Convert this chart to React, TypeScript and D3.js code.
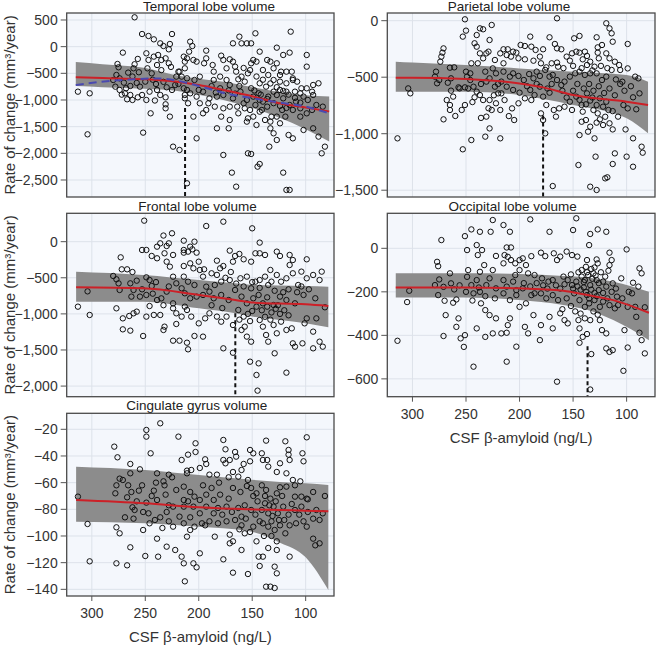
import React from 'react';
import * as d3 from 'd3';

type P = [number, number];

const xTicks = [300, 250, 200, 150, 100];
const xDomain: [number, number] = [323.5, 73.5];

const temporalYTicks = [500, 0, -500, -1000, -1500, -2000, -2500];
const parietalYTicks = [0, -500, -1000, -1500];
const frontalYTicks = [0, -500, -1000, -1500, -2000];
const occipitalYTicks = [0, -200, -400, -600];
const cingulateYTicks = [-20, -40, -60, -80, -100, -120, -140];

const temporalPoints: P[] = [
  [313,-844],[302,-875],[304,-1644],[260,550],[271,-112],[253,237],[247,200],[242,137],[236,62],[233,12],[227,50],[225,237],[228,-50],[276,-325],[275,-387],[277,-531],[274,-594],[278,-750],[274,-812],[269,-875],[267,-987],[264,-906],[262,-1000],[257,-950],[253,-906],[266,-487],[261,-406],[248,-406],[244,-500],[249,-125],[247,-250],[242,-187],[238,-156],[235,-250],[231,-219],[228,-312],[239,-344],[250,-656],[255,-750],[246,-844],[249,-1000],[239,-812],[236,-906],[231,-950],[230,-762],[225,-812],[222,-719],[221,-562],[219,-469],[216,-562],[213,-281],[209,-94],[245,-1250],[231,-1156],[227,-1312],[231,-1081],[252,-1612],[224,-1875],[218,-1937],[211,-812],[213,-969],[280,-625],[270,-675],[264,-737],
  [147,250],[114,281],[162,187],[168,62],[160,62],[155,62],[151,62],[143,-94],[127,-19],[121,-156],[115,-112],[99,-156],[99,-375],[208,94],[206,12],[193,-75],[193,-219],[214,-187],[211,-219],[205,-250],[202,-281],[195,-312],[187,-344],[186,-469],[179,-169],[177,-250],[171,-237],[168,-281],[166,-375],[174,-406],[165,-469],[151,-312],[149,-250],[146,-281],[136,-250],[133,-281],[127,-312],[130,-406],[123,-469],[113,-469],[112,-594],[104,-781],[93,-719],[88,-687],[218,-469],[213,-406],
  [211,-594],[204,-625],[199,-562],[186,-625],[180,-562],[174,-625],[171,-719],[163,-612],[157,-656],[151,-781],[143,-687],[137,-750],[130,-625],[124,-656],[118,-687],[112,-625],[214,-781],[208,-875],[200,-812],[196,-844],[190,-969],[183,-937],[177,-906],[168,-969],[161,-844],[155,-1000],[149,-937],[144,-875],[140,-1031],[135,-937],[127,-906],[121,-969],[115,-1094],[109,-1031],[102,-937],[98,-1000],[93,-906],[90,-1094],[84,-1125],[210,-1062],[205,-1312],[196,-1250],[193,-1187],[183,-1531],[179,-1312],[171,-1375],[172,-1531],[163,-1250],[157,-1156],[154,-1344],[155,-1406],[149,-1312],[146,-1469],[141,-1187],[138,-1375],[133,-1531],[130,-1625],[127,-1750],[134,-1875],[124,-1437],[119,-1312],[116,-1656],[112,-1719],[102,-1562],[93,-1531],[88,-1687],[82,-1875],[85,-2000],[202,-1719],[177,-2031],[154,-2000],[151,-2012],[143,-2200],[145,-2250],[169,-2362],[165,-2625],[121,-2362],[118,-2687],[115,-2687],[211,-2562],
  [160,-562],[154,-500],[140,-437],[135,-531],[124,-531],[118,-469],[108,-656],[105,-875],[99,-781],[94,-844],[110,-844],[118,-844],[124,-812],[130,-844],[143,-1000],[147,-1094],[152,-1187],[158,-1062],[164,-1125],[171,-1125],[177,-1156],[185,-1125],[191,-1062],[199,-1062],[202,-937],[213,-906],[143,-1219],[136,-1125],[122,-1187],[112,-1187],[105,-1156],[99,-1250],[94,-1187],[105,-1312],[127,-1312],[133,-1406],[132,-1312],
  [158,-400],[152,-440],[146,-560],[140,-620],[133,-690],[127,-760],[121,-830],[116,-900],[110,-960],[105,-1050],[148,-820],[142,-900],[136,-980],[130,-1060],[124,-1110],[118,-1150],[162,-740],[166,-880],[172,-820],[180,-780],[184,-860],[188,-740],[240,-700],[243,-620],[258,-680],[262,-560],[256,-480],[268,-780],[272,-900],[235,-440],[226,-380],[219,-700],[233,-660],[241,-1010],[260,-330],[257,-230],
];

const parietalPoints: P[] = [
  [314,-1041],[304,-599],[302,-643],[271,-873],[274,-363],[273,-318],[272,-283],[271,-245],[275,-525],[277,-554],[278,-451],[279,-495],[265,-416],[261,-413],[264,-510],[267,-549],[264,-619],[262,-672],[268,-702],[265,-746],[265,-790],[260,-843],[254,-790],[251,-746],[256,-599],[251,-590],[257,-590],[250,-451],[249,-495],[246,-466],[246,-525],[253,-141],[250,-88],[251,12],[240,-127],[237,-68],[234,-76],[242,-200],[240,-230],[231,-289],[237,-289],[234,-333],[239,-377],[245,-377],[243,-584],[240,-628],[242,-678],[237,-658],[234,-702],[229,-775],[231,-849],[228,-953],[232,-1026],[245,-1056],[253,-1138],[228,-171],[226,-38],[229,-274],[223,-348],[225,-422],[222,-466],[228,-510],[232,-451],[231,-539],[223,-584],[220,-643],[228,-702],[222,-731],[226,-790],[218,-790],[218,-289],[215,-377],
  [165,21],[119,-23],[116,-68],[114,-112],[113,-186],[99,-206],[128,-147],[144,-135],[149,-156],[172,-147],[190,-141],[199,-215],[195,-224],[189,-230],[185,-259],[178,-253],[167,-206],[165,-245],[161,-253],[215,-253],[211,-253],[206,-274],[212,-304],[208,-318],[203,-283],[201,-333],[195,-342],[187,-354],[181,-318],[180,-377],[175,-413],[170,-377],[165,-371],[164,-407],[156,-318],[153,-354],[151,-289],[147,-274],[144,-283],[139,-274],[137,-312],[141,-342],[137,-392],[134,-363],[130,-407],[127,-283],[127,-236],[123,-215],[126,-333],[119,-289],[116,-333],[111,-363],[107,-392],[114,-436],[119,-495],[123,-525],[128,-466],[134,-466],[139,-480],[144,-451],[148,-466],[153,-495],[158,-539],[161,-569],[165,-525],[169,-480],[172,-495],[176,-436],[181,-489],[184,-451],[187,-510],[191,-472],[196,-525],[201,-489],[206,-466],[209,-495],[215,-451],[217,-539],[212,-584],[206,-613],[200,-637],[195,-687],[201,-731],[207,-776],[210,-844],[205,-879],[214,-702],[217,-643],[189,-702],[186,-658],[190,-613],[181,-584],[178,-672],[172,-637],[175,-746],[168,-790],[163,-776],[166,-849],[158,-761],[153,-717],[151,-790],[147,-672],[142,-746],[141,-805],[137,-643],[134,-707],[131,-790],[128,-746],[125,-687],[122,-761],[119,-717],[117,-790],[142,-894],[138,-879],[134,-938],[136,-982],[144,-1012],[130,-1041],[128,-902],[125,-873],[122,-923],[116,-908],[113,-962],[108,-849],[103,-746],[99,-776],[94,-678],[91,-784],[88,-643],[89,-510],[92,-495],[99,-422],[106,-436],[101,-962],[94,-1041],[86,-1115],[85,-1168],[100,-1203],[94,-1292],[111,-1174],[113,-1268],[129,-1203],[145,-1277],[120,-1395],[118,-1386],[134,-1469],[128,-1498],[169,-1463],[178,-879],[180,-820],[176,-997],[218,-1041],
  [146,-560],[140,-600],[135,-560],[131,-620],[126,-580],[121,-640],[116,-600],[111,-660],[106,-560],[102,-620],[144,-700],[138,-740],[132,-680],[127,-820],[120,-850],[113,-800],[150,-620],[156,-680],[160,-620],[170,-560],[174,-600],[184,-560],[193,-580],[159,-420],[150,-400],[142,-420],[132,-440],[124,-400],[118,-420],[110,-520],[104,-540],[96,-580],[236,-560],[244,-720],[236,-860],[248,-600],[220,-560],[224,-660],
];

const frontalPoints: P[] = [
  [313,-900],[304,-688],[302,-1015],[273,-217],[272,-383],[280,-475],[277,-521],[275,-577],[274,-669],[277,-923],[271,-1062],[271,-1214],[264,-1232],[267,-383],[264,-577],[261,-669],[263,-761],[261,-992],[265,-1029],[258,-969],[252,-1306],[251,291],[253,-115],[249,-115],[244,-198],[239,-230],[249,-494],[246,-531],[244,-614],[253,-660],[249,-738],[255,-761],[239,-808],[246,-891],[242,-1015],[236,-1015],[249,-1038],[233,-1223],[232,-1177],[225,116],[228,-23],[233,85],[236,-23],[239,-69],[230,-60],[232,-161],[224,-184],[214,-115],[224,-485],[227,-346],[230,-277],[221,-577],[216,-646],[230,-692],[235,-785],[224,-854],[224,-923],[221,-992],[213,-900],[221,-1140],[224,-1371],[218,-1371],[204,-1306],
  [193,217],[177,277],[150,185],[143,-13],[214,14],[208,-69],[204,0],[214,-152],[210,-138],[206,-106],[202,-152],[214,-337],[208,-300],[205,-369],[200,-277],[199,-392],[195,-383],[188,-438],[183,-263],[180,-369],[177,-337],[171,-124],[168,-277],[166,-198],[162,-170],[158,-244],[151,-277],[147,-161],[143,-161],[138,-184],[133,-392],[127,-138],[124,-198],[115,-184],[112,-254],[115,-323],[99,-244],[104,-415],[99,-507],[93,-461],[87,-531],[85,-415],[214,-484],[210,-554],[204,-600],[196,-484],[193,-623],[185,-600],[179,-554],[171,-531],[166,-669],[161,-507],[155,-484],[151,-646],[147,-554],[143,-531],[138,-484],[135,-600],[132,-554],[127,-461],[123,-554],[118,-507],[112,-438],[107,-600],[213,-715],[208,-784],[202,-761],[196,-738],[190,-692],[186,-784],[179,-738],[172,-808],[160,-761],[155,-854],[149,-784],[144,-738],[140,-854],[136,-771],[130,-877],[124,-761],[118,-808],[110,-854],[102,-738],[91,-784],[82,-909],[216,-1038],[211,-946],[207,-1038],[200,-1131],[194,-1062],[190,-992],[183,-1038],[179,-1108],[174,-1038],[168,-1154],[163,-946],[158,-1038],[157,-1177],[155,-1315],[160,-1223],[151,-1385],[143,-1085],[140,-1177],[137,-1292],[135,-1385],[130,-1154],[127,-1269],[123,-1108],[118,-1223],[112,-1408],[110,-1454],[113,-1200],[101,-1131],[99,-1062],[90,-1062],[93,-1246],[87,-1385],[84,-1454],[93,-1477],[103,-1408],[129,-1546],[144,-1685],[152,-1662],[146,-1846],[118,-1814],[145,-2063],[196,-1315],[177,-1477],[168,-1538],[211,-1399],[210,-1491],
  [146,-900],[141,-950],[136,-900],[132,-980],[128,-930],[124,-1000],[120,-950],[116,-1020],[150,-960],[154,-1000],[138,-1040],[133,-1080],[126,-880],[121,-700],[129,-680],[116,-660],[108,-700],[104,-620],[97,-660],[143,-640],[150,-560],[158,-620],[165,-580],[170,-420],[175,-500],[183,-460],[188,-880],[178,-920],[162,-1080],[152,-1100],[258,-540],[262,-420],[240,-560],[243,-720],[228,-620],[233,-880],
];

const occipitalPoints: P[] = [
  [314,-425],[305,-247],[303,-195],[273,38],[277,-62],[276,-82],[279,-169],[275,-143],[271,-177],[276,-215],[270,-241],[269,-307],[271,-403],[265,-115],[264,-161],[261,-189],[259,-235],[257,-322],[259,-361],[255,-414],[252,-453],[251,-399],[251,56],[249,-8],[245,87],[237,76],[248,-100],[245,-169],[243,-207],[249,-131],[243,-544],[240,15],[239,-31],[235,-8],[233,-77],[237,-108],[240,-146],[237,-200],[231,-169],[236,-253],[232,-284],[228,-307],[232,-407],[240,-368],[225,130],[227,76],[228,-138],[225,-100],[222,-184],[223,-230],[222,-322],[225,-391],[222,-35],[215,-69],[215,-207],[209,-238],[204,-123],[203,-215],
  [190,133],[172,76],[150,84],[147,138],[134,66],[127,87],[119,76],[135,15],[100,-5],[215,107],[209,76],[212,4],[208,4],[214,-31],[211,-39],[208,-54],[204,-69],[200,-54],[197,-46],[194,-77],[189,-36],[180,-20],[176,-36],[168,-23],[165,-54],[162,-38],[156,-15],[151,-31],[146,-38],[138,-85],[137,-54],[128,-51],[127,-69],[130,-88],[116,-20],[114,-54],[116,-77],[117,-103],[105,-138],[94,-158],[88,-92],[86,-115],[89,-176],[95,-207],[200,-100],[192,-115],[186,-123],[179,-138],[173,-153],[169,-146],[159,-130],[155,-146],[151,-169],[147,-153],[142,-130],[139,-146],[136,-123],[134,-169],[131,-115],[128,-146],[126,-192],[122,-153],[119,-176],[113,-161],[109,-222],[215,-146],[212,-176],[206,-153],[203,-192],[197,-184],[189,-215],[194,-253],[200,-269],[186,-207],[180,-207],[175,-230],[169,-215],[164,-238],[156,-230],[149,-207],[144,-238],[139,-269],[135,-253],[130,-238],[125,-269],[122,-245],[116,-261],[111,-276],[108,-261],[99,-269],[92,-269],[91,-315],[83,-271],[209,-322],[211,-353],[217,-391],[212,-388],[203,-452],[195,-361],[192,-391],[187,-307],[181,-422],[172,-315],[169,-368],[162,-299],[158,-330],[155,-345],[145,-330],[144,-368],[141,-407],[144,-434],[137,-394],[139,-322],[134,-330],[133,-486],[125,-330],[123,-376],[119,-391],[119,-460],[116,-476],[113,-468],[102,-376],[99,-456],[88,-388],[86,-422],[83,-483],[103,-563],[165,-613],[134,-649],[212,-521],[180,-353],
  [140,-180],[138,-200],[133,-190],[130,-205],[128,-220],[126,-160],[143,-190],[146,-175],[150,-185],[135,-230],[132,-140],[140,-155],[137,-215],
  [142,-100],[137,-110],[133,-95],[129,-125],[124,-110],[120,-130],[145,-110],[152,-120],[158,-165],[162,-185],[166,-170],[174,-185],[178,-170],[184,-160],[190,-175],[196,-160],[122,-205],[118,-230],[114,-200],[110,-185],[104,-230],[98,-200],[152,-265],[160,-280],[148,-290],[143,-300],[131,-290],[127,-305],[238,-180],[232,-220],[244,-240],[250,-200],[256,-170],[262,-250],
];

const cingulatePoints: P[] = [
  [313,-70.5],[304,-91],[302,-119],[279,-33],[276,-41],[278,-68],[277,-62],[274,-57],[271,-58],[277,-93.5],[274,-98],[277,-120.5],[269,-86],[267,-71],[266,-62],[264,-46],[264,-53],[263,-67],[262,-78.5],[261,-87],[260,-80.5],[258,-74],[264,-108.5],[267,-122],[255,-50],[253,-62],[252,-95.5],[250,-115],[249,-20.5],[249,-25.5],[247,-83],[249,-75],[246,-90.5],[245,-38],[242,-66],[239,-73],[241,-88],[239,-102],[238,-115.5],[239,-53],[236,-15.5],[233,-59],[232,-62],[231,-69],[228,-77],[230,-82],[228,-89],[230,-108],[228,-54],[225,-56],[219,-25.5],[214,-73],[218,-85.5],[216,-115.5],[224,-93],[224,-78],[221,-65.5],[222,-110.5],[211,-53],
  [203,-30.5],[203,-37],[210,-39],[216,-43],[211,-51],[207,-50.5],[194,-42.5],[193,-46],[199,-49],[177,-28],[175,-35],[177,-43],[175,-45.5],[171,-43],[166,-37],[165,-40.5],[168,-52],[163,-55.5],[160,-50.5],[152,-35.5],[149,-38],[152,-44],[141,-38],[137,-28.5],[140,-43],[136,-43],[135,-48],[127,-52],[124,-45.5],[119,-29],[116,-35.5],[116,-39],[115,-43],[118,-53],[103,-38],[102,-44],[99,-26],[112,-58],[110,-62],[105,-59],[183,-54],[190,-54],[214,-63],[208,-67],[204,-70.5],[199,-73],[193,-69],[188,-64],[180,-69],[172,-72],[168,-64],[161,-67],[155,-62.5],[151,-64],[146,-68],[141,-62],[137,-65.5],[133,-72],[127,-68],[124,-63.5],[118,-63],[110,-70.5],[104,-70.5],[99,-72],[93,-67],[82,-70],[214,-78],[210,-74],[205,-78],[199,-83],[193,-78],[186,-83],[182,-79],[174,-78],[169,-82],[163,-79],[160,-85.5],[157,-77],[151,-80.5],[147,-84],[141,-80.5],[138,-75.5],[135,-83],[130,-78],[126,-83],[121,-78],[116,-84],[110,-80.5],[104,-78],[98,-82],[90,-80.5],[84,-83],[214,-90.5],[208,-95.5],[211,-100.5],[204,-93],[197,-90.5],[194,-92],[190,-89],[185,-100.5],[182,-90.5],[174,-89],[171,-99],[168,-104],[160,-92],[157,-98],[152,-97],[149,-93],[143,-89],[140,-90.5],[135,-93],[132,-89],[129,-95.5],[127,-104],[124,-92],[115,-92],[109,-90.5],[102,-89],[99,-93],[93,-87],[87,-88],[93,-102],[87,-105.5],[91,-107],[115,-115.5],[127,-110.5],[135,-109],[140,-115.5],[144,-115.5],[143,-122.5],[129,-123],[127,-128],[154,-128.5],[168,-127.5],[177,-117.5],[171,-105.5],[160,-110.5],[199,-113],[205,-120.5],[202,-123.5],[214,-120.5],[213,-134],[137,-138],[133,-138],[129,-139],[98,-72.5],
  [138,-70],[134,-77],[131,-85],[128,-74],[125,-88],[122,-70],[119,-98],[145,-74],[149,-70],[156,-87],[162,-95],[166,-88],[178,-84],[181,-60],[186,-73],[196,-62],[208,-86],[120,-88],[113,-76],[106,-84],[132,-100],[139,-100],[146,-104],[154,-58],[158,-46],[172,-56],[236,-86],[244,-70],[252,-82],[256,-66],[234,-94],[240,-60],
];

// fitted curves: [x, fit, upper, lower]
const temporalFit: [number, number, number, number][] = [
  [315,-575,-290,-740],[290,-590,-330,-760],[250,-612,-400,-790],[220,-660,-540,-830],[200,-720,-600,-900],[177,-812,-660,-1000],[150,-930,-760,-1150],[125,-1060,-850,-1330],[100,-1140,-910,-1550],[78,-1215,-935,-1780],
];
const temporalLoess: P[] = [
  [315,-720],[292,-660],[261,-612],[236,-595],[224,-625],[200,-737],[174,-880],[150,-965],[124,-1050],[100,-1125],[78,-1250],
];
const parietalFit: [number, number, number, number][] = [
  [315.6,-504,-363,-628],[300,-504,-370,-628],[250,-516,-392,-628],[200,-555,-422,-658],[178,-590,-437,-693],[150,-658,-451,-746],[100,-717,-481,-864],[80,-746,-540,-997],
];
const frontalFit: [number, number, number, number][] = [
  [314.7,-632,-415,-831],[251.7,-646,-461,-831],[199.7,-738,-531,-923],[165.8,-808,-577,-992],[148.9,-844,-600,-1038],[100,-868,-614,-1131],[78.8,-891,-623,-1186],
];
const occipitalFit: [number, number, number, number][] = [
  [315.6,-180,-115,-226],[252.7,-180,-115,-226],[200.3,-184,-118,-238],[159.2,-195,-127,-261],[136.5,-215,-134,-284],[112.5,-238,-154,-330],[79.2,-296,-200,-422],
];
const cingulateFit: [number, number, number, number][] = [
  [314.7,-73,-48,-89.3],[250.2,-75.5,-50.5,-90.5],[199.7,-78.5,-54.3,-93],[155,-80,-57.5,-96],[124,-80.5,-59.5,-105],[100,-81,-60.5,-116],[78.8,-81.5,-61.8,-140.5],
];

// thresholds (dashed vertical lines): [x, starting y]
const temporalBreak: P = [212.8, -1150];
const parietalBreak: P = [178, -840];
const frontalBreak: P = [165.8, -990];
const occipitalBreak: P = [136.5, -450];

const yTitle = 'Rate of change (mm³/year)';
const xTitle = 'CSF β-amyloid (ng/L)';
const FONT = '"Liberation Sans", Arial, sans-serif';

interface PanelDef {
  title: string;
  titleX: number;
  titleY: number;
  left: number;
  top: number;
  width: number;
  height: number;
  yDomain: [number, number];
  yTicks: number[];
  points: P[];
  fit: [number, number, number, number][];
  loess?: P[];
  brk?: P;
  xAxis: boolean;
  yLabel: boolean;
}

const panels: PanelDef[] = [
  { title: 'Temporal lobe volume', titleX: 209, titleY: 11, left: 66.7, top: 13, width: 267.3, height: 184, yDomain: [-2819, 631], yTicks: temporalYTicks, points: temporalPoints, fit: temporalFit, loess: temporalLoess, brk: temporalBreak, xAxis: false, yLabel: true },
  { title: 'Parietal lobe volume', titleX: 509, titleY: 10.5, left: 387.3, top: 13, width: 267.7, height: 184, yDomain: [-1560, 68], yTicks: parietalYTicks, points: parietalPoints, fit: parietalFit, brk: parietalBreak, xAxis: false, yLabel: false },
  { title: 'Frontal lobe volume', titleX: 197.5, titleY: 210.5, left: 66.7, top: 213.3, width: 267.3, height: 183.4, yDomain: [-2147, 393], yTicks: frontalYTicks, points: frontalPoints, fit: frontalFit, brk: frontalBreak, xAxis: false, yLabel: true },
  { title: 'Occipital lobe volume', titleX: 512.7, titleY: 210.5, left: 387.3, top: 213.3, width: 267.7, height: 183.4, yDomain: [-682, 161], yTicks: occipitalYTicks, points: occipitalPoints, fit: occipitalFit, brk: occipitalBreak, xAxis: true, yLabel: false },
  { title: 'Cingulate gyrus volume', titleX: 196.7, titleY: 410, left: 66.7, top: 413.3, width: 267.3, height: 182.7, yDomain: [-145, -8], yTicks: cingulateYTicks, points: cingulatePoints, fit: cingulateFit, xAxis: true, yLabel: true },
];

const fmt = d3.format(',');

function Panel({ p }: { p: PanelDef }) {
  const x = d3.scaleLinear().domain(xDomain).range([p.left, p.left + p.width]);
  const y = d3.scaleLinear().domain(p.yDomain).range([p.top + p.height, p.top]);
  const area = d3
    .area<[number, number, number, number]>()
    .x((d) => x(d[0]))
    .y0((d) => y(d[3]))
    .y1((d) => y(d[2]))
    .curve(d3.curveMonotoneX);
  const fitLine = d3
    .line<[number, number, number, number]>()
    .x((d) => x(d[0]))
    .y((d) => y(d[1]))
    .curve(d3.curveMonotoneX);
  const loessLine = d3
    .line<P>()
    .x((d) => x(d[0]))
    .y((d) => y(d[1]))
    .curve(d3.curveMonotoneX);
  const clipId = 'clip-' + p.title.replace(/\s+/g, '');
  const bottom = p.top + p.height;
  return (
    <g>
      <defs>
        <clipPath id={clipId}>
          <rect x={p.left} y={p.top} width={p.width} height={p.height} />
        </clipPath>
      </defs>
      <rect x={p.left} y={p.top} width={p.width} height={p.height} fill="#f4f7fc" />
      {xTicks.map((t) => (
        <line key={'gx' + t} x1={x(t)} x2={x(t)} y1={p.top} y2={bottom} stroke="#dde2ea" strokeWidth={1} />
      ))}
      {p.yTicks.map((t) => (
        <line key={'gy' + t} x1={p.left} x2={p.left + p.width} y1={y(t)} y2={y(t)} stroke="#dde2ea" strokeWidth={1} />
      ))}
      <g clipPath={`url(#${clipId})`}>
        <path d={area(p.fit) || ''} fill="#8c8c8c" />
        {p.points.map((d, i) => (
          <circle key={i} cx={x(d[0])} cy={y(d[1])} r={2.7} fill="none" stroke="#111" strokeWidth={1} />
        ))}
        <path d={fitLine(p.fit) || ''} fill="none" stroke="#cc2027" strokeWidth={2} />
        {p.loess && (
          <path d={loessLine(p.loess) || ''} fill="none" stroke="#4a4ab0" strokeWidth={2} strokeDasharray="8,5" />
        )}
        {p.brk && (
          <line x1={x(p.brk[0])} x2={x(p.brk[0])} y1={y(p.brk[1])} y2={bottom} stroke="#111" strokeWidth={2} strokeDasharray="4,3" />
        )}
      </g>
      <rect x={p.left} y={p.top} width={p.width} height={p.height} fill="none" stroke="#4a4a4a" strokeWidth={1.3} />
      {p.yTicks.map((t) => (
        <g key={'ty' + t}>
          <line x1={p.left - 6} x2={p.left} y1={y(t)} y2={y(t)} stroke="#555" strokeWidth={1} />
          <text x={p.left - 9} y={y(t) + 5} textAnchor="end" fontSize={14} fill="#333" fontFamily={FONT}>
            {fmt(t)}
          </text>
        </g>
      ))}
      {p.xAxis &&
        xTicks.map((t) => (
          <g key={'tx' + t}>
            <line x1={x(t)} x2={x(t)} y1={bottom} y2={bottom + 5} stroke="#555" strokeWidth={1} />
            <text x={x(t)} y={bottom + 22} textAnchor="middle" fontSize={14} fill="#333" fontFamily={FONT}>
              {t}
            </text>
          </g>
        ))}
      {p.xAxis && (
        <text x={p.left + p.width / 2} y={bottom + 46} textAnchor="middle" fontSize={15} fill="#333" fontFamily={FONT}>
          {xTitle}
        </text>
      )}
      {p.yLabel && (
        <text
          transform={`translate(15,${p.top + p.height / 2}) rotate(-90)`}
          textAnchor="middle"
          fontSize={15}
          fill="#333"
          fontFamily={FONT}
        >
          {yTitle}
        </text>
      )}
      <text x={p.titleX} y={p.titleY} textAnchor="middle" fontSize={13.5} fill="#222" fontFamily={FONT}>
        {p.title}
      </text>
    </g>
  );
}

export default function App() {
  return (
    <svg
      width={660}
      height={646}
      viewBox="0 0 660 646"
      style={{ position: 'absolute', left: 0, top: 0, background: '#fff' }}
    >
      <rect x={0} y={0} width={660} height={646} fill="#fff" />
      {panels.map((p) => (
        <Panel key={p.title} p={p} />
      ))}
    </svg>
  );
}
